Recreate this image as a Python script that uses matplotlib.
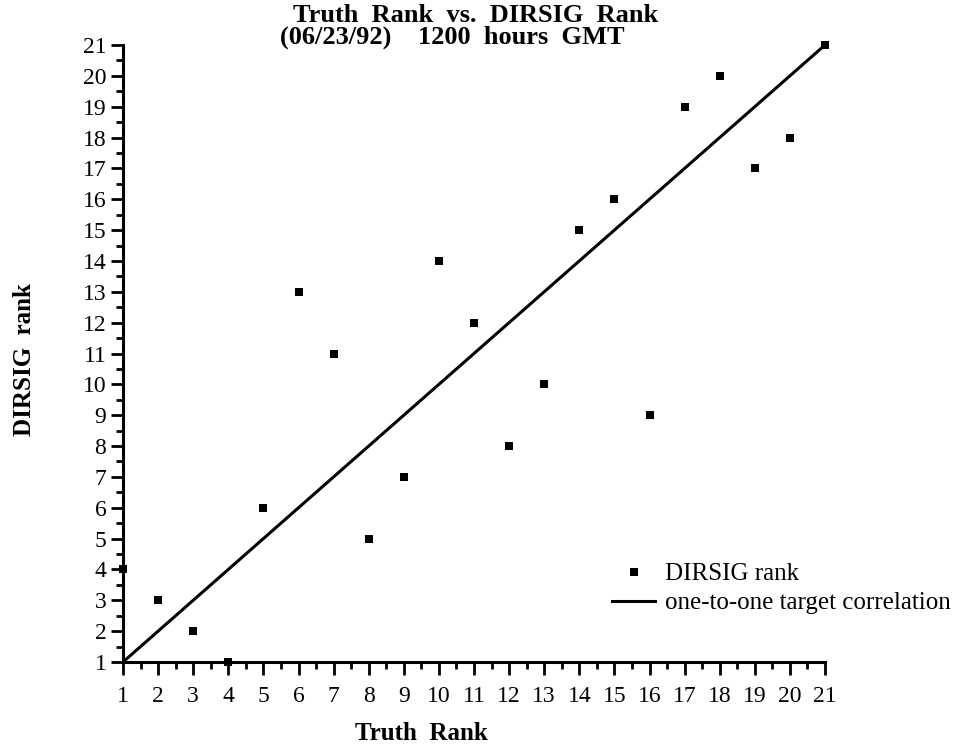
import matplotlib
matplotlib.use("Agg")
import matplotlib.pyplot as plt
from matplotlib.ticker import MultipleLocator

truth_rank = list(range(1, 22))
dirsig_rank = [4, 3, 2, 1, 6, 13, 11, 5, 7, 14, 12, 8, 10, 15, 16, 9, 19, 20, 17, 18, 21]
one_to_one = list(range(1, 22))
ticks = list(range(1, 22))

plt.rcParams['font.family'] = ['Liberation Serif', 'DejaVu Serif']

W, H = 958, 746
fig = plt.figure(figsize=(W/100, H/100), dpi=100)
ax = fig.add_axes([123/W, 1-662/H, (825-123)/W, (662-45)/H])

ax.plot(truth_rank, one_to_one, color='black', lw=2.2, label='one-to-one target correlation', zorder=2)
ax.plot(truth_rank, dirsig_rank, linestyle='none', marker='s', markersize=6.2, markeredgewidth=0,
        color='black', label='DIRSIG rank', zorder=3, clip_on=False)

ax.set_xlim(1, 21)
ax.set_ylim(1, 21)
ax.set_xticks(ticks)
ax.set_yticks(ticks)
ax.xaxis.set_minor_locator(MultipleLocator(0.5))
ax.yaxis.set_minor_locator(MultipleLocator(0.5))
ax.tick_params(axis='both', which='major', direction='out', length=9, width=2, labelsize=17)
ax.tick_params(axis='both', which='minor', direction='out', length=5, width=2)
ax.tick_params(axis='x', which='major', pad=8)
ax.tick_params(axis='y', which='major', pad=3)

for s in ['top', 'right']:
    ax.spines[s].set_visible(False)
for s in ['left', 'bottom']:
    ax.spines[s].set_linewidth(2.2)

fig.text(476/W, 1-15/H, 'Truth  Rank  vs.  DIRSIG  Rank', fontsize=19, fontweight='bold',
         ha='center', va='center')
fig.text(280/W, 1-37/H, '(06/23/92)    1200  hours  GMT', fontsize=19, fontweight='bold',
         ha='left', va='center')
fig.text(421/W, 1-733/H, 'Truth  Rank', fontsize=18, fontweight='bold', ha='center', va='center')
fig.text(25/W, 1-360/H, 'DIRSIG  rank', fontsize=18, fontweight='bold', ha='center', va='center',
         rotation=90)

handles, labels = ax.get_legend_handles_labels()
fig.legend(handles[::-1], labels[::-1], loc='upper left', bbox_to_anchor=(602/W, 1-553/H),
           frameon=False, fontsize=18, handlelength=1.72, handletextpad=0.4, labelspacing=0.25,
           borderaxespad=0)

fig.savefig('out.png', dpi=100)
